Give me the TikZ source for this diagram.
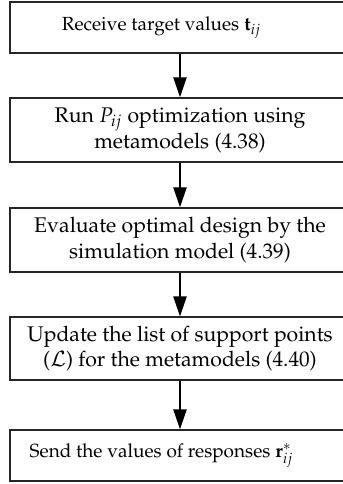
\documentclass[tikz,border=0pt]{standalone}
\usepackage[T1]{fontenc}
\usepackage{mathpazo}
\usetikzlibrary{arrows.meta}

\tikzset{
  stepbox/.style={draw=black!85, line width=0.75pt, rectangle, inner sep=0pt,
    minimum width=178.8pt, align=center, font=\fontsize{11.15}{13.6}\selectfont},
  shortbox/.style={stepbox, minimum height=26.8pt, font=\fontsize{10}{12.5}\selectfont},
  flow/.style={draw=black, line width=0.7pt, -{Triangle[length=10.5pt,width=7pt]}}
}

\begin{document}
\begin{tikzpicture}[x=0.526pt, y=-0.526pt]
\clip (0,0) rectangle (343,484);
\useasboundingbox (0,0) rectangle (343,484);

\node[shortbox] (receive) at (180,27.5) {Receive target values $\mathbf{t}_{ij}$\hspace*{19.5pt}};
\node[stepbox, minimum height=33.7pt] (run) at (180,130) {Run $P_{ij}$ optimization using\\ metamodels (4.38)};
\node[stepbox, minimum height=33.7pt] (evaluate) at (180,240) {Evaluate optimal design by the\\ simulation model (4.39)};
\node[stepbox, minimum height=33.1pt] (update) at (180,348.5) {Update the list of support points\\ ($\mathcal{L}$) for the metamodels (4.40)};
\node[shortbox] (send) at (180,455.5) {Send the values of responses $\mathbf{r}^{*}_{ij}$\hspace*{19.5pt}};

\draw[flow] (receive) -- (run);
\draw[flow] (run) -- (evaluate);
\draw[flow] (evaluate) -- (update);
\draw[flow] (update) -- (send);
\end{tikzpicture}
\end{document}
